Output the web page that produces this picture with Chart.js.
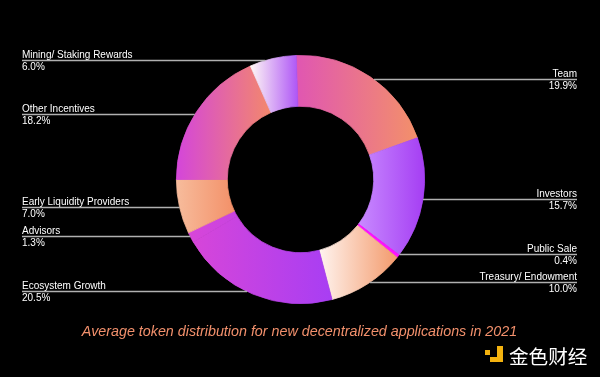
<!DOCTYPE html>
<html><head><meta charset="utf-8">
<script src="https://cdn.jsdelivr.net/npm/chart.js@4/dist/chart.umd.min.js"></script>
<style>html,body{margin:0;padding:0;background:#000;}#wrap{width:600px;height:377px;position:relative;}</style>
</head><body><div id="wrap"><canvas id="c" width="600" height="377"></canvas></div>
<script>
// ---- data ----
const categories = ['Team','Investors','Public Sale','Treasury/ Endowment','Ecosystem Growth','Advisors','Early Liquidity Providers','Other Incentives','Mining/ Staking Rewards'];
const shares = [19.9, 15.7, 0.4, 10.0, 20.5, 1.3, 7.0, 18.2, 6.0];
const valueLabels = ['19.9%','15.7%','0.4%','10.0%','20.5%','1.3%','7.0%','18.2%','6.0%'];
const caption = 'Average token distribution for new decentralized applications in 2021';
const brand = '金色财经';

// ---- styles / layout ----
const gradientStart = ['#e056b2','#c88aff','#ff12ff','#fff4ef','#d846d8','#d846d8','#f7bc9c','#d446da','#fff8f5'];
const gradientEnd   = ['#f3906a','#a53ef3','#ff12ff','#f39a6c','#a83ef3','#a83ef3','#f39068','#f3886c','#ae55f6'];
// slices sharing one gradient span (Advisors blends into Ecosystem Growth)
const gradientGroup = [0, 1, 2, 3, 4, 4, 6, 7, 8];
const labelSide  = ['right','right','right','right','left','left','left','left','left'];
const labelLineY = [79.5, 199.5, 254.5, 282.5, 291.5, 236.5, 207.5, 114.5, 60.5];

function arcExtent(p) {
  const xs = [];
  [p.startAngle, p.endAngle].forEach(a => {
    [p.innerRadius, p.outerRadius].forEach(r => xs.push(p.x + r * Math.cos(a)));
  });
  for (let n = -2; n <= 2; n++) {
    [0, Math.PI].forEach(k => {
      const a = k + n * 2 * Math.PI;
      if (a >= p.startAngle && a <= p.endAngle) xs.push(p.x + p.outerRadius * Math.cos(a));
    });
  }
  return [Math.min(...xs), Math.max(...xs)];
}

const gradientPlugin = {
  id: 'sliceGradients',
  beforeDatasetsDraw(chart) {
    const ctx = chart.ctx;
    const meta = chart.getDatasetMeta(0);
    const props = meta.data.map(arc => arc.getProps(['x','y','startAngle','endAngle','innerRadius','outerRadius'], true));
    const ext = props.map(arcExtent);
    meta.data.forEach((arc, i) => {
      const grp = gradientGroup[i];
      let x0 = Infinity, x1 = -Infinity;
      gradientGroup.forEach((g, j) => { if (g === grp) { x0 = Math.min(x0, ext[j][0]); x1 = Math.max(x1, ext[j][1]); } });
      if (x1 - x0 < 1) x1 = x0 + 1;
      const g = ctx.createLinearGradient(x0, 0, x1, 0);
      g.addColorStop(0, gradientStart[i]);
      g.addColorStop(1, gradientEnd[i]);
      try { arc.options.backgroundColor = g; arc.options.borderColor = g; } catch (e) {}
    });
  }
};

const decorPlugin = {
  id: 'decor',
  beforeDraw(chart) {
    const ctx = chart.ctx;
    ctx.save();
    ctx.fillStyle = '#000';
    ctx.fillRect(0, 0, chart.width, chart.height);
    ctx.restore();
  },
  afterDraw(chart) {
    const ctx = chart.ctx;
    const arc0 = chart.getDatasetMeta(0).data[0];
    const cx = arc0.x, cy = arc0.y, R = arc0.outerRadius;
    ctx.save();
    categories.forEach((name, i) => {
      const y = labelLineY[i];
      const dy = y - cy;
      const half = Math.sqrt(Math.max(0, R * R - dy * dy));
      ctx.strokeStyle = '#b0b0b0';
      ctx.lineWidth = 1.4;
      ctx.beginPath();
      if (labelSide[i] === 'left') { ctx.moveTo(22, y); ctx.lineTo(cx - half, y); }
      else { ctx.moveTo(cx + half, y); ctx.lineTo(577, y); }
      ctx.stroke();
      ctx.fillStyle = '#ffffff';
      ctx.font = '10px "Liberation Sans", Arial, sans-serif';
      ctx.textBaseline = 'alphabetic';
      if (labelSide[i] === 'left') {
        ctx.textAlign = 'left';
        ctx.fillText(name, 22, y - 2.3);
        ctx.fillText(valueLabels[i], 22, y + 9);
      } else {
        ctx.textAlign = 'right';
        ctx.fillText(name, 577, y - 2.3);
        ctx.fillText(valueLabels[i], 577, y + 9);
      }
    });
    // caption
    ctx.fillStyle = '#f2906c';
    ctx.font = 'italic 14.3px "Liberation Sans", Arial, sans-serif';
    ctx.textAlign = 'center';
    ctx.textBaseline = 'alphabetic';
    ctx.fillText(caption, 299.5, 336);
    // brand icon
    ctx.fillStyle = '#f3b20f';
    ctx.fillRect(485, 350, 5, 5);
    ctx.fillRect(497, 346, 6, 16);
    ctx.fillRect(490, 357, 13, 5);
    // brand text
    ctx.fillStyle = '#ffffff';
    ctx.font = '19.6px "Noto Sans CJK SC", sans-serif';
    ctx.textAlign = 'left';
    ctx.textBaseline = 'middle';
    ctx.fillText(brand, 509, 356.5);
    ctx.restore();
  }
};

new Chart(document.getElementById('c'), {
  type: 'doughnut',
  data: {
    labels: categories,
    datasets: [{
      data: shares,
      backgroundColor: gradientStart.slice(),
      borderColor: gradientStart.slice(),
      borderWidth: 0.8,
      hoverOffset: 0
    }]
  },
  options: {
    responsive: false,
    animation: false,
    cutout: '59%',
    rotation: -2,
    layout: { padding: { top: 55, bottom: 73, left: 1, right: 0 } },
    plugins: { legend: { display: false }, tooltip: { enabled: false } },
    events: []
  },
  plugins: [gradientPlugin, decorPlugin]
});
</script>
</body></html>
